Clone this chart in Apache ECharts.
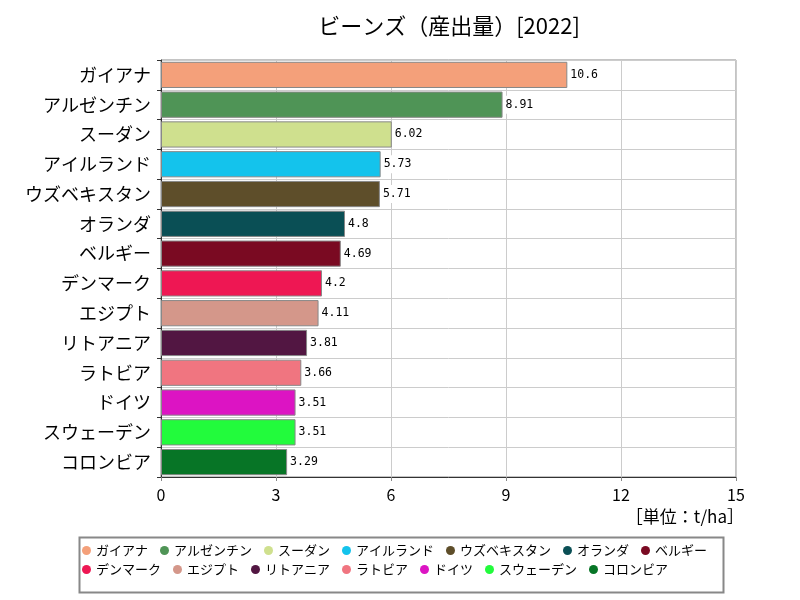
<!DOCTYPE html>
<html><head><meta charset="utf-8">
<script src="https://cdn.jsdelivr.net/npm/echarts@6/dist/echarts.min.js"></script>
<style>html,body{margin:0;padding:0;background:#fff}#c{width:800px;height:600px}</style>
</head><body><div id="c"></div>
<script>
const categories = ["ガイアナ","アルゼンチン","スーダン","アイルランド","ウズベキスタン","オランダ","ベルギー","デンマーク","エジプト","リトアニア","ラトビア","ドイツ","スウェーデン","コロンビア"];
const values = [10.6, 8.91, 6.02, 5.73, 5.71, 4.8, 4.69, 4.2, 4.11, 3.81, 3.66, 3.51, 3.51, 3.29];
const colors = ["#f4a07a","#4f9456","#cfe08e","#14c3ec","#5e4e2a","#0a4f55","#7a0a22","#ee1753","#d4978a","#521642","#f07580","#dc14c3","#22fb3c","#077526"];
const xTicks = [0, 3, 6, 9, 12, 15];
const font = '"Noto Sans CJK JP", sans-serif';

const series = categories.map((name, i) => ({
  name: name,
  type: 'bar',
  stack: 'all',
  barWidth: '88%',
  data: categories.map((c, j) => j === i ? values[i] : null),
  itemStyle: { color: colors[i], borderColor: '#888', borderWidth: 1 },
  label: {
    show: true, position: 'right', color: '#000', fontSize: 11.5, fontFamily: '"DejaVu Sans Mono", monospace',
    backgroundColor: '#fff', padding: [4, 3, 2, 2], distance: 1,
    formatter: p => p.value == null ? '' : String(p.value)
  }
}));

const legendBase = {
  itemWidth: 9, itemHeight: 9, icon: 'circle', itemGap: 12, padding: 0,
  itemStyle: { borderWidth: 0 },
  textStyle: { fontSize: 13, color: '#000', fontFamily: font }
};

const chart = echarts.init(document.getElementById('c'));
chart.setOption({
  animation: false,
  title: {
    text: 'ビーンズ（産出量）[2022]', left: 444, top: 10, textAlign: 'center',
    textStyle: { fontSize: 22, fontWeight: 'normal', color: '#000', fontFamily: font }
  },
  grid: { left: 161, right: 64, top: 60, bottom: 123, show: true, borderColor: '#888', borderWidth: 1 },
  xAxis: {
    type: 'value', min: xTicks[0], max: xTicks[xTicks.length - 1], interval: 3,
    axisLine: { show: true, lineStyle: { color: '#333' } },
    axisTick: { show: true, length: 4, lineStyle: { color: '#888' } },
    axisLabel: { color: '#000', fontSize: 16, fontFamily: font, margin: 10 },
    splitLine: { show: true, lineStyle: { color: '#ccc' } }
  },
  yAxis: {
    type: 'category', data: categories, inverse: true,
    axisLine: { show: true, lineStyle: { color: '#333' } },
    axisTick: { show: true, length: 4, lineStyle: { color: '#333' } },
    axisLabel: { color: '#000', fontSize: 18, fontFamily: font, margin: 10 },
    splitLine: { show: true, lineStyle: { color: '#ccc' } }
  },
  legend: [
    Object.assign({ data: categories.slice(0, 7), left: 82, top: 544 }, legendBase),
    Object.assign({ data: categories.slice(7), left: 82, top: 563 }, legendBase)
  ],
  graphic: [
    { type: 'rect', left: 77, top: 535, shape: { width: 644, height: 55 },
      style: { fill: 'none', stroke: '#888', lineWidth: 2 }, z: -1 },
    { type: 'text', right: 56, top: 508,
      style: { text: '［単位：t/ha］', fontSize: 17, fill: '#000', fontFamily: font } }
  ],
  series: series
});
</script></body></html>
